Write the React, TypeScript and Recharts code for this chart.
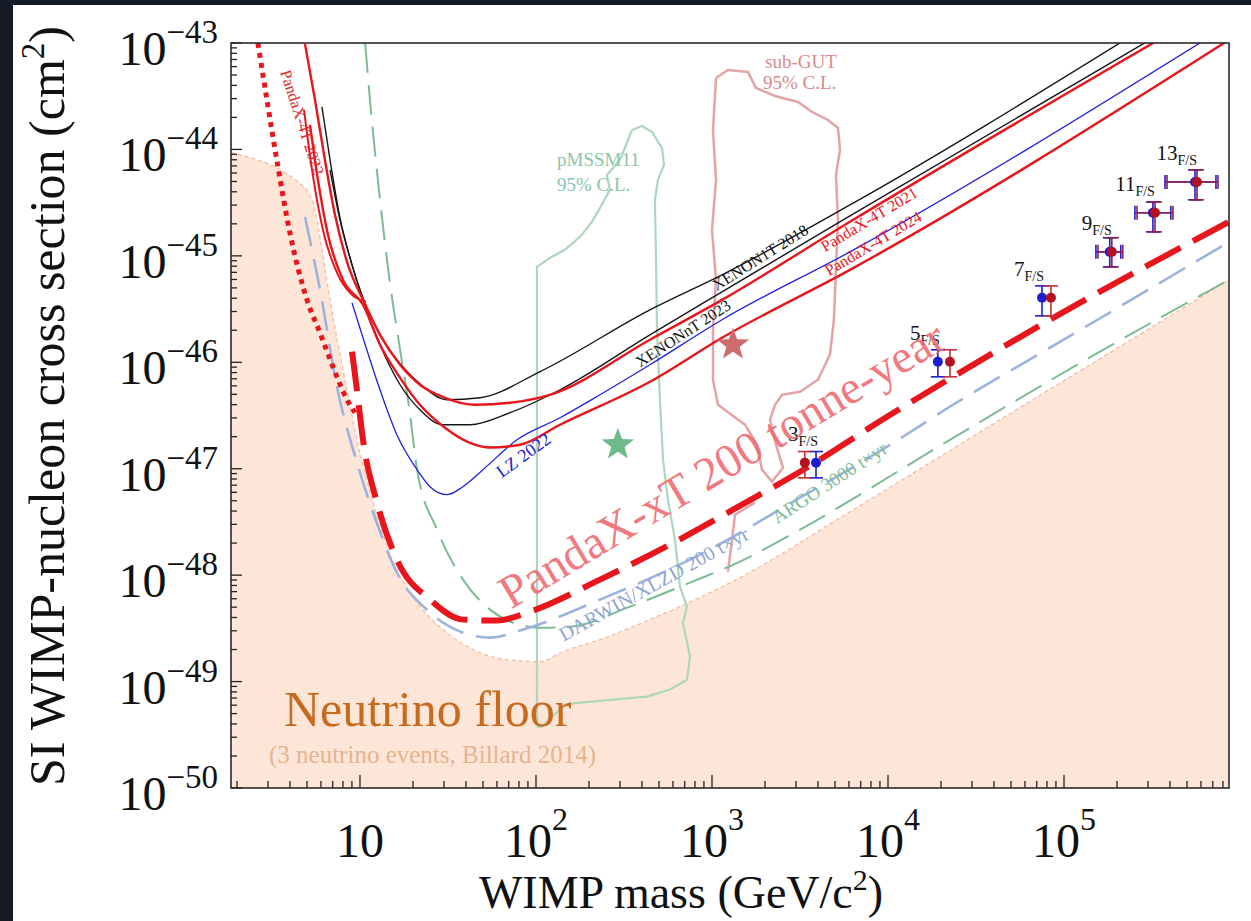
import React from 'react';
import { Area, ComposedChart, ErrorBar, Line, Scatter, XAxis, YAxis } from 'recharts';

const SERIF = '"Liberation Serif", "Times New Roman", serif';

const PAGE_W = 1251;
const PAGE_H = 921;
const PLOT_LEFT = 231;
const PLOT_TOP = 43;
const PLOT_RIGHT = 1229;
const PLOT_BOTTOM = 788;

// axis ranges: WIMP mass (GeV/c^2), cross section (cm^2)
const massRange = [1.85, 8.66e5];
const sigmaRange = [1e-50, 1e-43];

// every curve below is [mass, sigma]
const neutrinoFloor = [
  [1.85, 9.3e-45], [4.87, 4.35e-45], [5.55, 2.7e-45], [6.08, 1.14e-45], [6.76, 3.86e-46],
  [8.22, 6.85e-47], [9.61, 1.87e-47], [11.9, 4.8e-48], [14.8, 1.56e-48], [20, 6.28e-49],
  [31.2, 2.88e-49], [48.1, 1.87e-49], [74, 1.58e-49], [105, 1.54e-49], [142, 1.91e-49],
  [231, 2.48e-49], [444, 3.82e-49], [1442, 9.47e-49], [6080, 3.95e-48], [4.33e4, 2.88e-47],
  [8.66e5, 5.95e-46],
];

const argo3000 = [
  [10.7, 1e-43], [11.4, 2.92e-44], [13, 3.36e-45], [14.8, 5.58e-46], [16.9, 1.31e-46],
  [19.2, 3.36e-47], [21.1, 9.79e-48], [27.4, 2.68e-48], [38.5, 9.07e-49], [54.8, 4.74e-49],
  [74, 3.58e-49], [105, 3.21e-49], [156, 3.28e-49], [342, 5.06e-49], [750, 8.5e-49],
  [1442, 1.34e-48], [3162, 2.68e-48], [2.25e4, 1.87e-47], [1.6e5, 1.26e-46], [8.66e5, 5.95e-46],
];

const darwinXlzd = [
  [4.87, 2.32e-45], [5.93, 4.8e-46], [7.4, 5.89e-47], [9.61, 1.14e-47], [11.9, 3.86e-48],
  [16.2, 1.06e-48], [25, 4.45e-49], [38.5, 2.88e-49], [54.8, 2.59e-49], [84.4, 3.08e-49],
  [231, 5.89e-49], [855, 1.56e-48], [3162, 5.34e-48], [1.03e4, 1.68e-47], [2.34e4, 3.99e-47],
  [8.32e4, 1.37e-46], [8.66e5, 1.35e-45],
];

const pandaxXT = [
  [9.01, 1.26e-46], [9.61, 5.52e-47], [10.4, 1.87e-47], [12.5, 4.8e-48], [16.2, 1.4e-48],
  [25, 5.89e-49], [38.5, 3.82e-49], [60, 3.74e-49], [92.5, 4.54e-49], [231, 9.07e-49],
  [684, 2.25e-48], [1316, 4.12e-48], [3162, 9.37e-48], [1.03e4, 3.21e-47], [2.34e4, 7.31e-47],
  [8.32e4, 2.51e-46], [8.66e5, 2.09e-45],
];

const pandaxXTLowMass = [
  [2.63, 1e-43], [2.96, 2.92e-44], [3.42, 6.85e-45], [4, 1.64e-45], [5, 3.86e-46],
  [5.93, 1.89e-46], [7.02, 9.07e-47], [8.44, 4.45e-47], [9.37, 3.36e-47],
];

const pandax4t2021 = [
  [4.87, 9.8e-44], [5.55, 2.92e-44], [6.32, 7.97e-45], [7.21, 2.43e-45], [8.55, 8.23e-46],
  [10.4, 3.86e-46], [13, 1.81e-46], [16.9, 9.47e-47], [21.9, 6.15e-47], [30.4, 4.64e-47],
  [45, 3.99e-47], [71.2, 4.17e-47], [120, 4.95e-47], [444, 1.63e-46], [1140, 3.86e-46],
  [6080, 2.09e-45], [3.51e5, 1.09e-43],
];

const pandax4t2024 = [
  [5.2, 1.7e-44], [5.77, 5.17e-45], [6.58, 1.58e-45], [8, 5.95e-46], [10.4, 3.47e-46],
  [13, 1.46e-46], [16.9, 7.15e-47], [21.9, 3.99e-47], [30.4, 2.43e-47], [42.2, 1.75e-47],
  [54.8, 1.58e-47], [81.1, 1.68e-47], [137, 2.59e-47], [444, 6.56e-47], [1140, 1.7e-46],
  [6080, 7.39e-46], [8.66e5, 1.07e-43],
];

const pandax4t2022 = [
  [4.81, 2.35e-44], [5.34, 6.42e-45], [6.16, 1.75e-45], [7.5, 6.63e-46], [9.01, 4.3e-46],
  [10.8, 3.7e-46],
];

const xenon1t2018 = [
  [6.08, 2.51e-44], [6.76, 7.97e-45], [7.7, 2.27e-45], [9.01, 8.23e-46], [10.4, 4.03e-46],
  [13, 1.81e-46], [16.9, 9.68e-47], [21.9, 6.28e-47], [31.2, 4.45e-47], [48.1, 4.64e-47],
  [105, 8.14e-47], [444, 3.11e-46], [1140, 6.63e-46], [6080, 3.01e-45], [2.22e5, 1.07e-43],
];

const xenonnt2023 = [
  [6.76, 6.42e-45], [7.7, 2.18e-45], [9.01, 8.23e-46], [10.4, 3.86e-46], [13, 1.46e-46],
  [16.9, 6.15e-47], [21.9, 3.58e-47], [29.6, 2.59e-47], [42.2, 2.59e-47], [71.2, 3.36e-47],
  [137, 5.52e-47], [444, 1.81e-46], [1140, 4.59e-46], [6080, 2.38e-45], [3.08e5, 1.07e-43],
];

const lz2022 = [
  [9.01, 3.62e-46], [10.4, 1.7e-46], [12.7, 6.15e-47], [16.2, 2.09e-47], [21.1, 9.8e-48],
  [25, 6.78e-48], [31.2, 5.7e-48], [38.5, 6.78e-48], [50, 9.8e-48], [78, 1.87e-47],
  [137, 3.01e-47], [231, 4.95e-47], [444, 9.47e-47], [1140, 2.51e-46], [6080, 1.09e-45],
  [6.32e5, 1.07e-43],
];

const pmssm11Contour = [
  [101.3, 3.78e-50], [101.3, 7.88e-46], [120, 9.58e-46], [146, 1.14e-45], [178, 1.51e-45],
  [208, 2.09e-45], [240, 3.15e-45], [263, 4.17e-45], [253, 5.76e-45], [300, 7.97e-45],
  [325, 1.1e-44], [351, 1.52e-44], [400, 1.66e-44], [456, 1.46e-44], [520, 1.03e-44],
  [534, 7.15e-45], [493, 5.17e-45], [474, 3.36e-45], [481, 9.17e-46], [487, 2.02e-46],
  [506, 4.45e-47], [527, 1.22e-47], [562, 5.12e-48], [616, 2.15e-48], [658, 7.8e-49],
  [721, 5.06e-49], [684, 3.58e-49], [750, 1.72e-49], [721, 1.04e-49], [577, 8.41e-50],
  [427, 7.23e-50], [274, 6.78e-50], [178, 6.35e-50], [146, 6.08e-50], [128, 4.9e-50],
  [108, 3.78e-50], [101.3, 3.78e-50],
];

const subGutContour = [
  [1054, 4.69e-44], [1233, 5.58e-44], [1601, 5.34e-44], [1778, 3.78e-44], [2280, 3.18e-44],
  [3080, 2.79e-44], [3700, 2.25e-44], [4560, 1.89e-44], [5200, 1.59e-44], [5340, 9.89e-45],
  [5060, 5.76e-45], [5200, 2.18e-45], [5060, 7.39e-46], [4930, 2.51e-46], [4680, 1.18e-46],
  [4000, 6.85e-47], [3162, 5.28e-47], [2500, 4.95e-47], [2280, 3.99e-47], [2136, 2.88e-47],
  [2310, 1.68e-47], [2532, 1.02e-47], [2192, 7.55e-48], [1924, 9.8e-48], [1802, 1.68e-47],
  [1540, 2.59e-47], [1266, 3.28e-47], [1082, 3.99e-47], [1013, 6.85e-47], [1013, 2.02e-46],
  [1054, 5.95e-46], [1000, 1.75e-45], [1054, 5.17e-45], [1013, 1.52e-44], [1054, 4.69e-44],
];

const subGutTail = [[1755, 4.8e-48], [1351, 3.7e-48], [1299, 2.15e-48], [1233, 1.08e-48]];

const pmssmBestFit = [[292, 1.68e-47]];
const subGutBestFit = [[1316, 1.46e-46]];

// forecast points n_F/S with 1-sigma bands
const fsNames = ['3', '5', '7', '9', '11', '13'];
const fsMassBlue = [3900, 1.92e4, 7.5e4, 1.82e5, 3.2e5, 5.55e5];
const fsMassRed = [3370, 2.25e4, 8.43e4, 1.87e5, 3.29e5, 5.7e5];
const fsSigma = [1.14e-47, 1.01e-46, 4.04e-46, 1.09e-45, 2.54e-45, 4.95e-45];
const fsSigmaLow = [8.2e-48, 7.3e-47, 2.73e-46, 7.88e-46, 1.68e-45, 3.36e-45];
const fsSigmaHigh = [1.45e-47, 1.31e-46, 5.22e-46, 1.48e-45, 3.21e-45, 6.43e-45];
const fsMassLow = [null, null, null, 1.56e5, 2.6e5, 3.85e5];
const fsMassHigh = [null, null, null, 2.16e5, 4.16e5, 7.5e5];

const lg = Math.log10;
const toXY = (pts: number[][]) => pts.map(([m, s]) => ({ x: lg(m), y: lg(s) }));

const X_DOMAIN = [lg(massRange[0]), lg(massRange[1])];
const Y_DOMAIN = [lg(sigmaRange[0]), lg(sigmaRange[1])];

const xTicks: number[] = [];
for (let d = 0; d <= 5; d++) {
  for (let k = 1; k <= 9; k++) {
    const v = d + lg(k);
    if (v >= X_DOMAIN[0] && v <= X_DOMAIN[1]) xTicks.push(v);
  }
}
const yTicks: number[] = [];
for (let d = -50; d <= -44; d++) {
  for (let k = 1; k <= 9; k++) yTicks.push(d + lg(k));
}
yTicks.push(-43);

const isMajor = (v: number) => Math.abs(v - Math.round(v)) < 1e-6;

function fsSeries(masses: number[], idx: number[]) {
  return idx.map((i) => {
    const x = lg(masses[i]);
    const y = lg(fsSigma[i]);
    const row: any = {
      label: fsNames[i],
      x,
      y,
      ey: [y - lg(fsSigmaLow[i]), lg(fsSigmaHigh[i]) - y],
    };
    if (fsMassLow[i] != null) {
      const ref = lg(fsMassRed[i]);
      row.ex = [ref - lg(fsMassLow[i] as number), lg(fsMassHigh[i] as number) - ref];
    }
    return row;
  });
}

const RED = '#e8161c';
const BLUE_PT = '#1d1dd0';
const RED_PT = '#b5101f';

function XTick(props: any) {
  const { x, payload } = props;
  const v = payload.value;
  const major = isMajor(v);
  const p = Math.round(v);
  return (
    <g>
      <line x1={x} x2={x} y1={PLOT_BOTTOM} y2={PLOT_BOTTOM - (major ? 13 : 7)} stroke="#222" strokeWidth={1.3} />
      {major && (
        <text x={x} y={857} textAnchor="middle" fontFamily={SERIF} fill="#111">
          <tspan fontSize={48}>10</tspan>
          {p > 1 && <tspan fontSize={32} dy={-27}>{p}</tspan>}
        </text>
      )}
    </g>
  );
}

function YTick(props: any) {
  const { y, payload } = props;
  const v = payload.value;
  const major = isMajor(v);
  return (
    <g>
      <line x1={PLOT_LEFT} x2={PLOT_LEFT + (major ? 11 : 6)} y1={y} y2={y} stroke="#222" strokeWidth={1.3} />
      {major && (
        <text x={218} y={y + 22} textAnchor="end" fontFamily={SERIF} fill="#111">
          <tspan fontSize={48}>10</tspan>
          <tspan fontSize={33} dy={-22}>{'\u2212' + Math.abs(Math.round(v))}</tspan>
        </text>
      )}
    </g>
  );
}

function starShape(fill: string) {
  return (p: any) => {
    const pts: string[] = [];
    for (let i = 0; i < 10; i++) {
      const r = i % 2 === 0 ? 17 : 7;
      const a = -Math.PI / 2 + (i * Math.PI) / 5;
      pts.push(`${p.cx + r * Math.cos(a)},${p.cy + r * Math.sin(a)}`);
    }
    return <polygon points={pts.join(' ')} fill={fill} />;
  };
}

const dotShape = (fill: string) => (p: any) => <circle cx={p.cx} cy={p.cy} r={5} fill={fill} />;

const labelledDot = (p: any) => (
  <g>
    <circle cx={p.cx} cy={p.cy} r={5} fill={BLUE_PT} />
    <text x={p.cx + 2} y={p.cy - 22} textAnchor="end" fontFamily={SERIF} fill="#111">
      <tspan fontSize={21}>{p.payload.label}</tspan>
      <tspan fontSize={14} dy={5}>F/S</tspan>
    </text>
  </g>
);

export default function App() {
  const light = [0, 1, 2];
  const heavy = [3, 4, 5];
  return (
    <div style={{ position: 'fixed', left: 0, top: 0, width: PAGE_W, height: PAGE_H, background: '#151b27', overflow: 'hidden' }}>
      <div style={{ position: 'absolute', left: 13, top: 5, width: PAGE_W - 13, height: PAGE_H - 5, background: '#fff' }} />
      <div style={{ position: 'absolute', left: 0, top: 0 }}>
        <ComposedChart
          width={PAGE_W}
          height={PAGE_H}
          data={toXY(neutrinoFloor)}
          margin={{ top: PLOT_TOP, right: PAGE_W - PLOT_RIGHT, bottom: 0, left: 0 }}
        >
          <XAxis
            type="number"
            dataKey="x"
            domain={X_DOMAIN}
            allowDataOverflow
            ticks={xTicks}
            interval={0}
            tick={XTick}
            tickLine={false}
            axisLine={false}
            height={PAGE_H - PLOT_BOTTOM}
          />
          <YAxis
            type="number"
            dataKey="y"
            domain={Y_DOMAIN}
            allowDataOverflow
            ticks={yTicks}
            interval={0}
            tick={YTick}
            tickLine={false}
            axisLine={false}
            width={PLOT_LEFT}
          />
          <Area
            type="monotone"
            dataKey="y"
            baseValue={Y_DOMAIN[0]}
            fill="#fde6d8"
            fillOpacity={1}
            stroke="#f0b9a3"
            strokeWidth={1.2}
            strokeDasharray="4 3"
            isAnimationActive={false}
          />
          <Line data={toXY(pmssm11Contour)} dataKey="y" type="linear" stroke="#acd7ba" strokeWidth={2.2} dot={false} isAnimationActive={false} />
          <Line data={toXY(subGutContour)} dataKey="y" type="linear" stroke="#e4a4a6" strokeWidth={2.5} dot={false} isAnimationActive={false} />
          <Line data={toXY(subGutTail)} dataKey="y" type="linear" stroke="#e4a4a6" strokeWidth={2.5} dot={false} isAnimationActive={false} />
          <Line data={toXY(argo3000)} dataKey="y" type="monotone" stroke="#7dbb93" strokeWidth={2} strokeDasharray="30 12" dot={false} isAnimationActive={false} />
          <Line data={toXY(darwinXlzd)} dataKey="y" type="monotone" stroke="#9db3de" strokeWidth={2.6} strokeDasharray="30 13" dot={false} isAnimationActive={false} />
          <Line data={toXY(pandaxXTLowMass)} dataKey="y" type="monotone" stroke={RED} strokeWidth={5} strokeDasharray="5 5" dot={false} isAnimationActive={false} />
          <Line data={toXY(pandaxXT)} dataKey="y" type="monotone" stroke={RED} strokeWidth={6} strokeDasharray="40 14" dot={false} isAnimationActive={false} />
          <Line data={toXY(lz2022)} dataKey="y" type="monotone" stroke="#2020e0" strokeWidth={1.3} dot={false} isAnimationActive={false} />
          <Line data={toXY(xenon1t2018)} dataKey="y" type="monotone" stroke="#161616" strokeWidth={1.4} dot={false} isAnimationActive={false} />
          <Line data={toXY(xenonnt2023)} dataKey="y" type="monotone" stroke="#161616" strokeWidth={1.4} dot={false} isAnimationActive={false} />
          <Line data={toXY(pandax4t2022)} dataKey="y" type="monotone" stroke={RED} strokeWidth={2} dot={false} isAnimationActive={false} />
          <Line data={toXY(pandax4t2021)} dataKey="y" type="monotone" stroke={RED} strokeWidth={2.4} dot={false} isAnimationActive={false} />
          <Line data={toXY(pandax4t2024)} dataKey="y" type="monotone" stroke={RED} strokeWidth={2.4} dot={false} isAnimationActive={false} />
          <Scatter data={toXY(pmssmBestFit)} dataKey="y" shape={starShape('#6dba8b')} isAnimationActive={false} />
          <Scatter data={toXY(subGutBestFit)} dataKey="y" shape={starShape('#cd6b6e')} isAnimationActive={false} />
          <Scatter data={fsSeries(fsMassBlue, light)} dataKey="y" shape={labelledDot} isAnimationActive={false}>
            <ErrorBar dataKey="ey" direction="y" width={7} stroke={BLUE_PT} strokeWidth={1.6} />
          </Scatter>
          <Scatter data={fsSeries(fsMassBlue, heavy)} dataKey="y" shape={labelledDot} isAnimationActive={false}>
            <ErrorBar dataKey="ey" direction="y" width={7} stroke={BLUE_PT} strokeWidth={1.6} />
            <ErrorBar dataKey="ex" direction="x" width={7} stroke={BLUE_PT} strokeWidth={1.6} />
          </Scatter>
          <Scatter data={fsSeries(fsMassRed, light)} dataKey="y" shape={dotShape(RED_PT)} isAnimationActive={false}>
            <ErrorBar dataKey="ey" direction="y" width={7} stroke="#c0303a" strokeWidth={1.6} />
          </Scatter>
          <Scatter data={fsSeries(fsMassRed, heavy)} dataKey="y" shape={dotShape(RED_PT)} isAnimationActive={false}>
            <ErrorBar dataKey="ey" direction="y" width={7} stroke="#8f1f4a" strokeWidth={1.6} />
            <ErrorBar dataKey="ex" direction="x" width={7} stroke="#8f1f4a" strokeWidth={1.6} />
          </Scatter>
        </ComposedChart>
      </div>
      <svg width={PAGE_W} height={PAGE_H} style={{ position: 'absolute', left: 0, top: 0, pointerEvents: 'none' }} fontFamily={SERIF}>
        <rect x={PLOT_LEFT} y={PLOT_TOP} width={PLOT_RIGHT - PLOT_LEFT} height={PLOT_BOTTOM - PLOT_TOP} fill="none" stroke="#2a2a2a" strokeWidth={1.6} />

        <text transform="translate(297,124) rotate(72)" textAnchor="middle" fontSize={16} fill="#e0262c">PandaX-4T 2022</text>
        <text transform="translate(763,262) rotate(-32)" textAnchor="middle" fontSize={16} fill="#111">XENON1T 2018</text>
        <text transform="translate(686,338) rotate(-33)" textAnchor="middle" fontSize={16} fill="#111">XENONnT 2023</text>
        <text transform="translate(872,224) rotate(-31)" textAnchor="middle" fontSize={16} fill={RED}>PandaX-4T 2021</text>
        <text transform="translate(876,248) rotate(-31)" textAnchor="middle" fontSize={16} fill={RED}>PandaX-4T 2024</text>
        <text transform="translate(527,460) rotate(-36)" textAnchor="middle" fontSize={18} fill="#2020d0">LZ 2022</text>

        <text transform="translate(730,478) rotate(-31)" textAnchor="middle" fontSize={47} fill="#ef6870" fillOpacity={0.9}>PandaX-xT 200 tonne-year</text>
        <text transform="translate(657,590) rotate(-29)" textAnchor="middle" fontSize={20} fill="#8ea4d2">DARWIN/XLZD 200 t×yr</text>
        <text transform="translate(833,488) rotate(-33)" textAnchor="middle" fontSize={19} fill="#80bb95">ARGO 3000 t×yr</text>

        <text x={557} y={166} fontSize={19} fill="#8cc6a3">pMSSM11</text>
        <text x={557} y={191} fontSize={19} fill="#8cc6a3">95% C.L.</text>
        <text x={765} y={68} fontSize={19} fill="#d9898c">sub-GUT</text>
        <text x={763} y={89} fontSize={19} fill="#d9898c">95% C.L.</text>

        <text x={284} y={726} fontSize={50} fill="#c86a1e">Neutrino floor</text>
        <text x={269} y={763} fontSize={25} fill="#e6b48e">(3 neutrino events, Billard 2014)</text>

        <text x={681} y={908} textAnchor="middle" fill="#111">
          <tspan fontSize={46}>WIMP mass (GeV/c</tspan>
          <tspan fontSize={30} dy={-18}>2</tspan>
          <tspan fontSize={46} dy={18}>)</tspan>
        </text>
        <text transform="translate(64,406) rotate(-90)" textAnchor="middle" fill="#111">
          <tspan fontSize={50}>SI WIMP-nucleon cross section (cm</tspan>
          <tspan fontSize={33} dy={-20}>2</tspan>
          <tspan fontSize={50} dy={20}>)</tspan>
        </text>
      </svg>
    </div>
  );
}
